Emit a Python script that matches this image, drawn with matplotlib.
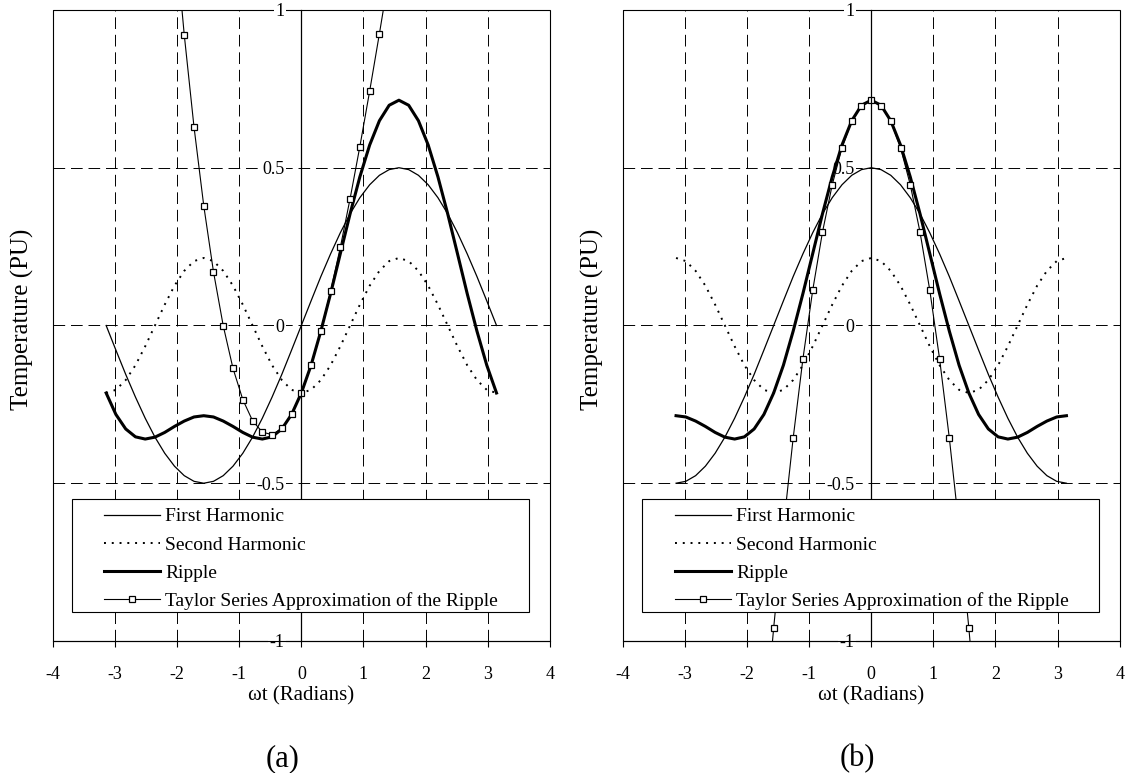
import matplotlib
matplotlib.use("Agg")
import matplotlib.pyplot as plt
from matplotlib.patches import Rectangle

plt.rcParams['font.family'] = ['Liberation Serif', 'DejaVu Serif']
plt.rcParams['axes.unicode_minus'] = False

# wt samples (step pi/20)
wt = [-3.142, -2.985, -2.827, -2.670, -2.513, -2.356, -2.199, -2.042, -1.885, -1.728,
      -1.571, -1.414, -1.257, -1.100, -0.942, -0.785, -0.628, -0.471, -0.314, -0.157,
      0.000, 0.157, 0.314, 0.471, 0.628, 0.785, 0.942, 1.100, 1.257, 1.414,
      1.571, 1.728, 1.885, 2.042, 2.199, 2.356, 2.513, 2.670, 2.827, 2.985, 3.142]

# (a)
first_a = [0.000, -0.078, -0.155, -0.227, -0.294, -0.354, -0.405, -0.446, -0.476, -0.494,
           -0.500, -0.494, -0.476, -0.446, -0.405, -0.354, -0.294, -0.227, -0.155, -0.078,
           0.000, 0.078, 0.155, 0.227, 0.294, 0.354, 0.405, 0.446, 0.476, 0.494,
           0.500, 0.494, 0.476, 0.446, 0.405, 0.354, 0.294, 0.227, 0.155, 0.078, 0.000]
second_a = [-0.214, -0.204, -0.173, -0.126, -0.066, 0.000, 0.066, 0.126, 0.173, 0.204,
            0.214, 0.204, 0.173, 0.126, 0.066, 0.000, -0.066, -0.126, -0.173, -0.204,
            -0.214, -0.204, -0.173, -0.126, -0.066, 0.000, 0.066, 0.126, 0.173, 0.204,
            0.214, 0.204, 0.173, 0.126, 0.066, 0.000, -0.066, -0.126, -0.173, -0.204, -0.214]
ripple_a = [-0.214, -0.282, -0.328, -0.353, -0.360, -0.354, -0.339, -0.320, -0.303, -0.290,
            -0.286, -0.290, -0.303, -0.320, -0.339, -0.354, -0.360, -0.353, -0.328, -0.282,
            -0.214, -0.126, -0.018, 0.101, 0.228, 0.354, 0.471, 0.572, 0.649, 0.698,
            0.714, 0.698, 0.649, 0.572, 0.471, 0.354, 0.228, 0.101, -0.018, -0.126, -0.214]
taylor_x_a = [-2.042, -1.885, -1.728, -1.571, -1.414, -1.257, -1.100, -0.942, -0.785, -0.628,
              -0.471, -0.314, -0.157, 0.000, 0.157, 0.314, 0.471, 0.628, 0.785, 0.942,
              1.100, 1.257, 1.414]
taylor_a = [1.260, 0.922, 0.630, 0.380, 0.170, -0.001, -0.136, -0.235, -0.302, -0.338,
            -0.346, -0.326, -0.282, -0.214, -0.125, -0.017, 0.108, 0.248, 0.402, 0.567,
            0.743, 0.925, 1.113]

# (b)
first_b = [-0.500, -0.494, -0.476, -0.446, -0.405, -0.354, -0.294, -0.227, -0.155, -0.078,
           0.000, 0.078, 0.155, 0.227, 0.294, 0.354, 0.405, 0.446, 0.476, 0.494,
           0.500, 0.494, 0.476, 0.446, 0.405, 0.354, 0.294, 0.227, 0.155, 0.078,
           0.000, -0.078, -0.155, -0.227, -0.294, -0.354, -0.405, -0.446, -0.476, -0.494, -0.500]
second_b = [0.214, 0.204, 0.173, 0.126, 0.066, 0.000, -0.066, -0.126, -0.173, -0.204,
            -0.214, -0.204, -0.173, -0.126, -0.066, 0.000, 0.066, 0.126, 0.173, 0.204,
            0.214, 0.204, 0.173, 0.126, 0.066, 0.000, -0.066, -0.126, -0.173, -0.204,
            -0.214, -0.204, -0.173, -0.126, -0.066, 0.000, 0.066, 0.126, 0.173, 0.204, 0.214]
ripple_b = [-0.286, -0.290, -0.303, -0.320, -0.339, -0.354, -0.360, -0.353, -0.328, -0.282,
            -0.214, -0.126, -0.018, 0.101, 0.228, 0.354, 0.471, 0.572, 0.649, 0.698,
            0.714, 0.698, 0.649, 0.572, 0.471, 0.354, 0.228, 0.101, -0.018, -0.126,
            -0.214, -0.282, -0.328, -0.353, -0.360, -0.354, -0.339, -0.320, -0.303, -0.290, -0.286]
taylor_x_b = [-1.728, -1.571, -1.414, -1.257, -1.100, -0.942, -0.785, -0.628, -0.471, -0.314,
              -0.157, 0.000, 0.157, 0.314, 0.471, 0.628, 0.785, 0.942, 1.100, 1.257,
              1.414, 1.571, 1.728]
taylor_b = [-1.310, -0.959, -0.641, -0.357, -0.106, 0.112, 0.296, 0.446, 0.564, 0.647,
            0.697, 0.714, 0.697, 0.647, 0.564, 0.446, 0.296, 0.112, -0.106, -0.357,
            -0.641, -0.959, -1.310]

x_ticks = [-4, -3, -2, -1, 0, 1, 2, 3, 4]
y_ticks = [-1, -0.5, 0, 0.5, 1]
y_tick_labels = ['-1', '-0.5', '0', '0.5', '1']
labels = ['First Harmonic', 'Second Harmonic', 'Ripple',
          'Taylor Series Approximation of the Ripple']


def panel(ax, h1, h2, rip, tx, ty, leg_x):
    ax.plot(wt, h1, color='k', lw=0.9, label=labels[0])
    ax.plot(wt, h2, color='k', lw=1.4, linestyle=(0, (1, 3)), label=labels[1])
    ax.plot(wt, rip, color='k', lw=2.2, label=labels[2])
    ax.plot(tx, ty, color='k', lw=0.8, marker='s', ms=5, mfc='white',
            mec='k', mew=0.9, label=labels[3])
    ax.set_xlim(-4, 4)
    ax.set_ylim(-1, 1)

    ax.set_xticks(x_ticks)
    ax.set_yticks(y_ticks)
    ax.set_yticklabels(y_tick_labels)
    ax.grid(True, color='k', lw=0.7, linestyle=(0, (12, 6)))

    ax.spines['left'].set_position(('data', 0))
    ax.spines['left'].set_linewidth(0.9)
    ax.spines['top'].set_visible(False)
    ax.spines['right'].set_visible(False)
    ax.spines['bottom'].set_linewidth(0.8)
    ax.add_patch(Rectangle((0, 0), 1, 1, transform=ax.transAxes, fill=False,
                           lw=0.8, edgecolor='k', clip_on=False, zorder=1))

    ax.tick_params(axis='y', length=0, pad=12, labelsize=13)
    ax.tick_params(axis='x', direction='out', length=4.3, width=0.8, pad=13.5, labelsize=13)
    for lab in ax.get_yticklabels():
        lab.set_bbox(dict(facecolor='white', edgecolor='none', pad=1))

    ax.set_ylabel('Temperature (PU)', fontsize=18)
    ax.yaxis.set_label_coords(-0.038, 0.509)
    ax.set_xlabel('ωt (Radians)', fontsize=15)
    ax.xaxis.set_label_coords(0.5, -0.072)

    # legend box
    ax.add_patch(Rectangle((0.038, 0.046), 0.921, 0.179, transform=ax.transAxes,
                           facecolor='white', edgecolor='k', lw=0.8, zorder=4))
    leg = ax.legend(loc='upper left', bbox_to_anchor=(leg_x, 0.211), borderaxespad=0,
                    borderpad=0, frameon=False, fontsize=14, handlelength=2.9,
                    handletextpad=0.26, labelspacing=0.54)
    leg.set_zorder(5)


fig = plt.figure(figsize=(11.29, 7.73), dpi=100)
ax_a = fig.add_axes([0.0468, 0.1708, 0.4402, 0.8163])
ax_b = fig.add_axes([0.5516, 0.1708, 0.4402, 0.8163])

panel(ax_a, first_a, second_a, ripple_a, taylor_x_a, taylor_a, 0.103)
panel(ax_b, first_b, second_b, ripple_b, taylor_x_b, taylor_b, 0.105)

fig.text(283 / 1129, 1 - 759 / 773, '(a)', ha='center', va='center', fontsize=22)
fig.text(857 / 1129, 1 - 759 / 773, '(b)', ha='center', va='center', fontsize=22)

fig.savefig('out.png', dpi=100)
